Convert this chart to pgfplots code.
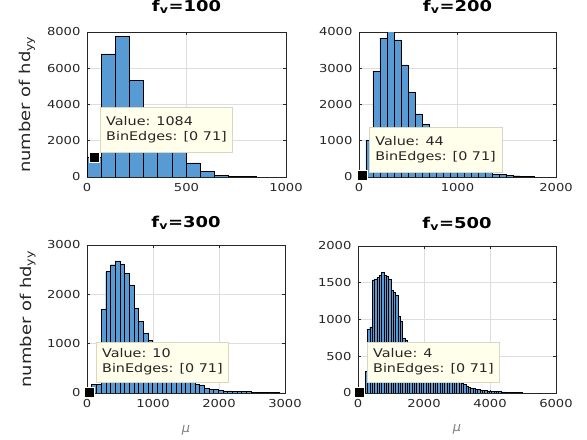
\documentclass[border=0pt]{standalone}
\usepackage{pgfplots}
\pgfplotsset{compat=1.18}
\usepackage{graphicx}
\usepackage{fontspec}
\setmainfont{DejaVu Sans}
\definecolor{barblue}{RGB}{88,155,212}
\definecolor{axgray}{RGB}{38,38,38}
\definecolor{gridgray}{RGB}{222,222,222}
\definecolor{tipfill}{RGB}{255,255,235}
\definecolor{tipdraw}{RGB}{215,215,195}
\newcommand{\wide}[1]{\scalebox{1.2}[1]{#1}}
\newcommand{\tiptext}[2]{\wide{\fontsize{12}{15}\selectfont\begin{tabular}{@{}l@{}}#1\\#2\end{tabular}}}
\tikzset{
  tip/.style={anchor=north west, fill=tipfill, draw=tipdraw, line width=0.5bp,
    text=black!85, inner xsep=6bp, inner ysep=5bp},
}
\pgfplotsset{
  hist/.style={
    scale only axis,
    anchor=south west,
    xmin=0, ymin=0,
    axis line style={axgray, line width=0.5bp},
    tick align=inside,
    major tick length=3bp,
    tick style={axgray, line width=0.5bp},
    grid=major,
    major grid style={gridgray, line width=0.5bp},
    tick label style={font=\fontsize{11}{11}\selectfont, text=axgray},
    /pgf/number format/assume math mode=true,
    /pgf/number format/set thousands separator={},
    scaled ticks=false,
    xticklabel={\wide{\pgfmathprintnumber{\tick}}},
    yticklabel={\wide{\pgfmathprintnumber{\tick}}},
    clip mode=individual,
    title style={font=\bfseries\fontsize{15}{15}\selectfont, text=black, anchor=base, at={(0.5,1)}},
    ylabel style={font=\fontsize{15}{15}\selectfont, text=axgray, at={(axis description cs:-0.3,0.5)}, anchor=center},
    xlabel style={font=\fontsize{13}{13}\selectfont\itshape, text=gray, at={(axis description cs:0.5,-0.25)}, anchor=center},
    yticklabel style={xshift=-3bp},
    xticklabel style={yshift=-3bp},
  },
  bars/.style={ybar interval, fill=barblue, draw=black, line width=0.4bp},
  tipmark/.style={only marks, mark=square*, mark size=5bp, mark options={fill=black, draw=tipfill, line width=0.6bp}},
}
\begin{document}
\begin{tikzpicture}
\path[use as bounding box] (0,0) rectangle (587bp,440bp);
% ---------- f_v = 100 ----------
\begin{axis}[hist, at={(87bp,263bp)}, width=199bp, height=145bp,
  xmax=1000, ymax=8000, xtick={0,500,1000}, ytick={0,2000,4000,6000,8000},
  title={\wide{f\textsubscript{v}=100}}, title style={yshift=15bp},
  ylabel={\wide{number of hd\textsubscript{yy}}}]
\addplot[bars] coordinates {
(0,1084) (71,6790) (142,7750) (213,5320) (284,3700) (355,2300) (426,1420)
(497,780) (568,300) (639,110) (710,40) (781,35) (852,0)};
\node[tip, minimum height=45bp] at (rel axis cs:0.065,0.483) {\tiptext{Value: 1084}{BinEdges: [0 71]}};
\addplot[tipmark] coordinates {(35.5,1084)};
\end{axis}
% ---------- f_v = 200 ----------
\begin{axis}[hist, at={(359bp,263bp)}, width=197bp, height=145bp,
  xmax=2000, ymax=4000, xtick={0,1000,2000}, ytick={0,1000,2000,3000,4000},
  title={\wide{f\textsubscript{v}=200}}, title style={yshift=15bp}]
\addplot[bars] coordinates {
(0,44) (71,1020) (142,2920) (213,3830) (284,4010) (355,3780) (426,3090)
(497,2350) (568,1740) (639,1460) (710,1200) (781,950) (852,760) (923,610)
(994,480) (1065,370) (1136,270) (1207,190) (1278,125) (1349,85) (1420,65)
(1491,48) (1562,35) (1633,25) (1704,15) (1775,0)};
\node[tip, minimum height=45bp] at (rel axis cs:0.051,0.345) {\tiptext{Value: 44}{BinEdges: [0 71]}};
\addplot[tipmark] coordinates {(35.5,44)};
\end{axis}
% ---------- f_v = 300 ----------
\begin{axis}[hist, at={(87bp,47bp)}, width=198bp, height=148bp,
  xmax=3000, ymax=3000, xtick={0,1000,2000,3000}, ytick={0,1000,2000,3000},
  title={\wide{f\textsubscript{v}=300}}, title style={yshift=12bp},
  ylabel={\wide{number of hd\textsubscript{yy}}}, xlabel={μ}]
\addplot[bars] coordinates {
(0,10) (71,170) (142,180) (213,1700) (284,2460) (355,2600) (426,2680)
(497,2615) (568,2425) (639,2190) (710,1716) (781,1446) (852,1210) (923,1074)
(994,900) (1065,760) (1136,640) (1207,540) (1278,450) (1349,370) (1420,300)
(1491,250) (1562,210) (1633,180) (1704,165) (1775,90) (1846,80) (1917,70)
(1988,50) (2059,45) (2130,42) (2201,40) (2272,38) (2343,35) (2414,30)
(2485,20) (2556,18) (2627,15) (2698,12) (2769,10) (2840,8) (2911,5) (2982,0)};
\node[tip, minimum height=40bp] at (rel axis cs:0.045,0.345) {\tiptext{Value: 10}{BinEdges: [0 71]}};
\addplot[tipmark] coordinates {(35.5,10)};
\end{axis}
% ---------- f_v = 500 ----------
\begin{axis}[hist, at={(358bp,47bp)}, width=198bp, height=147bp,
  xmax=6000, ymax=2000, xtick={0,2000,4000,6000}, ytick={0,500,1000,1500,2000},
  title={\wide{f\textsubscript{v}=500}}, title style={yshift=12bp}, xlabel={μ}]
\addplot[bars] coordinates {
(0,4) (71,20) (142,60) (213,290) (284,870) (355,900) (426,1540) (497,1550)
(568,1570) (639,1600) (710,1640) (781,1600) (852,1590) (923,1550) (994,1400)
(1065,1370) (1136,1330) (1207,1050) (1278,980) (1349,740) (1420,720)
(1491,650) (1562,590) (1633,540) (1704,500) (1775,460) (1846,420) (1917,390)
(1988,360) (2059,335) (2130,310) (2201,290) (2272,270) (2343,255) (2414,240)
(2485,230) (2556,220) (2627,210) (2698,205) (2769,200) (2840,195) (2911,190)
(2982,180) (3053,160) (3124,140) (3195,120) (3266,95) (3337,80) (3408,70)
(3479,60) (3550,52) (3621,46) (3692,42) (3763,38) (3834,34) (3905,30)
(3976,28) (4047,25) (4118,22) (4189,20) (4260,18) (4331,16) (4402,14)
(4473,12) (4544,11) (4615,10) (4686,8) (4757,7) (4828,6) (4899,5) (4970,0)};
\node[tip, minimum height=40bp] at (rel axis cs:0.045,0.347) {\tiptext{Value: 4}{BinEdges: [0 71]}};
\addplot[tipmark] coordinates {(35.5,4)};
\end{axis}
\end{tikzpicture}
\end{document}
